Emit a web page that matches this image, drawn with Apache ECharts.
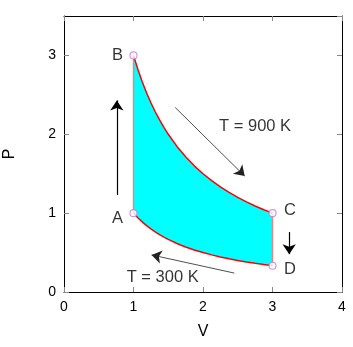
<!DOCTYPE html>
<html>
<head>
<meta charset="utf-8">
<script src="https://cdn.jsdelivr.net/npm/echarts@6/dist/echarts.min.js"></script>
<style>html,body{margin:0;padding:0;background:#fff;}#c{width:353px;height:347px;}</style>
</head>
<body>
<div id="c"></div>
<script>
// Isotherm samples (V, P)
var isoV   = [1, 1.0625, 1.125, 1.1875, 1.25, 1.3125, 1.375, 1.4375, 1.5, 1.625, 1.75, 1.875, 2, 2.125, 2.25, 2.375, 2.5, 2.625, 2.75, 2.875, 3];
var iso900 = [3, 2.824, 2.667, 2.526, 2.4, 2.286, 2.182, 2.087, 2, 1.846, 1.714, 1.6, 1.5, 1.412, 1.333, 1.263, 1.2, 1.143, 1.091, 1.043, 1];
var iso300 = [1, 0.941, 0.889, 0.842, 0.8, 0.762, 0.727, 0.696, 0.667, 0.615, 0.571, 0.533, 0.5, 0.471, 0.444, 0.421, 0.4, 0.381, 0.364, 0.348, 0.333];
// State points
var stateNames = ['A', 'B', 'C', 'D'];
var stateV = [1, 1, 3, 3];
var stateP = [1, 3, 1, 0.333];
// Label positions (data coords)
var labelText = ['B', 'A', 'C', 'D', 'T = 900 K', 'T = 300 K'];
var labelV = [0.77, 0.77, 3.25, 3.25, 2.75, 1.42];
var labelP = [3.0, 0.93, 1.03, 0.28, 2.1, 0.19];
// Arrows [V0,P0,V1,P1]
var arrowUp   = [0.76, 1.23, 0.76, 2.43];
var arrowDiag = [1.6, 2.34, 2.6, 1.47];
var arrowDown = [3.24, 0.76, 3.24, 0.48];
var arrowLeft = [2.45, 0.24, 1.26, 0.47];
// Axis ticks
var xTicks = [0, 1, 2, 3, 4];
var yTicks = [0, 1, 2, 3];

var chart = echarts.init(document.getElementById('c'));
function pairs(xs, ys) { return xs.map(function (x, i) { return [x, ys[i]]; }); }
function arrow(a, w, c) {
  return { coords: [[a[0], a[1]], [a[2], a[3]]], lineStyle: { width: w, color: c, opacity: 1 } };
}
var font = 'Liberation Sans, Arial, sans-serif';
var axisCommon = {
  type: 'value',
  axisLine: { show: true, onZero: false, lineStyle: { color: '#000', width: 1 } },
  axisTick: { show: true, inside: true, length: 5, lineStyle: { color: '#888' } },
  splitLine: { show: false },
  axisLabel: { color: '#000', fontSize: 14, fontFamily: font }
};
var upper = pairs(isoV, iso900);
var lower = pairs(isoV, iso300);
var poly = upper.concat(lower.slice().reverse());

chart.setOption({
  animation: false,
  grid: { left: 64, right: 11, top: 16, bottom: 55, show: false, outerBoundsMode: 'none', containLabel: false },
  xAxis: [
    Object.assign({}, axisCommon, { min: 0, max: 4, interval: 1, position: 'bottom',
      name: 'V', nameLocation: 'middle', nameGap: 32,
      nameTextStyle: { color: '#000', fontSize: 16, fontFamily: font },
      axisLabel: { color: '#000', fontSize: 14, fontFamily: font, margin: 8 } }),
    Object.assign({}, axisCommon, { min: 0, max: 4, interval: 1, position: 'top',
      axisLabel: { show: false } })
  ],
  yAxis: [
    Object.assign({}, axisCommon, { min: 0, max: 3.5, interval: 1, position: 'left',
      name: 'P', nameLocation: 'middle', nameGap: 46,
      nameTextStyle: { color: '#000', fontSize: 16, fontFamily: font },
      axisLabel: { color: '#000', fontSize: 14, fontFamily: font, margin: 8,
        showMaxLabel: false } }),
    Object.assign({}, axisCommon, { min: 0, max: 3.5, interval: 1, position: 'right',
      axisLabel: { show: false } })
  ],
  series: [
    {
      type: 'custom',
      coordinateSystem: 'cartesian2d',
      data: [[2, 1]],
      z: 1,
      silent: true,
      renderItem: function (params, api) {
        var pts = poly.map(function (p) { return api.coord(p); });
        return { type: 'polygon', shape: { points: pts }, style: { fill: '#00ffff', stroke: null } };
      }
    },
    {
      type: 'line', data: [[1, 1], [1, 3]], showSymbol: false, z: 2,
      lineStyle: { color: '#e08888', width: 1.5 }
    },
    {
      type: 'line', data: [[3, 1], [3, 0.333]], showSymbol: false, z: 2,
      lineStyle: { color: '#e08888', width: 1.5 }
    },
    {
      type: 'line', data: upper, showSymbol: false, z: 3,
      lineStyle: { color: '#ff0000', width: 1.5 }
    },
    {
      type: 'line', data: lower, showSymbol: false, z: 3,
      lineStyle: { color: '#ff0000', width: 1.5 }
    },
    {
      type: 'scatter', data: pairs(stateV, stateP), z: 5,
      symbol: 'circle', symbolSize: 7,
      itemStyle: { color: '#fff', borderColor: '#c080d8', borderWidth: 1.2 }
    },
    {
      type: 'lines', coordinateSystem: 'cartesian2d', z: 4,
      symbol: ['none', 'arrow'], symbolSize: [6, 10],
      data: [
        arrow(arrowUp, 1.2, '#000'),
        arrow(arrowDown, 1.2, '#000')
      ]
    },
    {
      type: 'lines', coordinateSystem: 'cartesian2d', z: 4,
      symbol: ['none', 'arrow'], symbolSize: [5, 10],
      data: [
        arrow(arrowDiag, 0.8, '#222'),
        arrow(arrowLeft, 0.8, '#222')
      ]
    },
    {
      type: 'scatter', symbolSize: 0, z: 6,
      data: labelText.map(function (t, i) { return { value: [labelV[i], labelP[i]], name: t }; }),
      label: {
        show: true, position: 'inside', formatter: '{b}',
        color: '#000', fontSize: 16.5, fontFamily: font
      }
    }
  ]
});
</script>
</body>
</html>
